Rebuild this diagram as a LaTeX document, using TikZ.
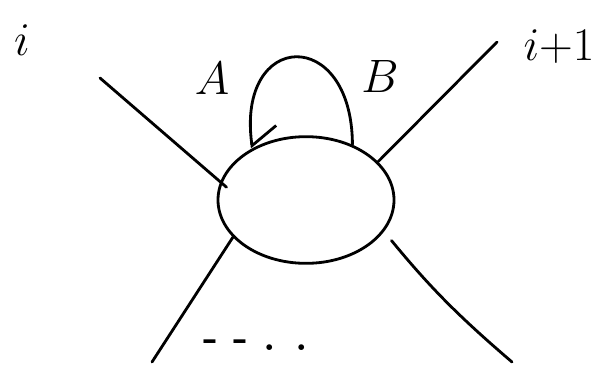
\RequirePackage{fix-cm}
\documentclass[tikz,border=0pt]{standalone}
\usepackage{tikz}
\usetikzlibrary{shapes.geometric,arrows.meta,positioning}

\begin{document}
\begin{tikzpicture}[
      x=0.03cm, y=-0.03cm,
      blob/.style={draw, ellipse, line width=2.4pt, minimum width=5.28cm, minimum height=3.8cm, inner sep=0pt},
      leg/.style={draw, line width=2.4pt, line cap=round},
      tag/.style={font=\fontsize{40}{48}\selectfont, inner sep=0pt}
    ]
      \useasboundingbox (0,0) rectangle (597,369);
      \node[blob] (blob) at (306,200) {};
      % free ends of the four legs
      \coordinate (tl) at (100,78);
      \coordinate (tr) at (497,42);
      \coordinate (bl) at (152,362);
      \coordinate (br) at (512,362);
      \draw[leg, shorten >=-0.25cm] (tl) -- (blob.168);
      \draw[leg] (tr) -- (blob.28);
      \draw[leg] (blob.207) -- (bl);
      \draw[leg, shorten <=0.35cm] (blob.-22) to[bend right=5] (br);
      % the loop on top
      \draw[leg, -{Straight Barb[left, length=5mm, width=16mm]}]
        (blob.50) .. controls (352,25) and (236,30) .. (blob.136);
      % labels
      \node[tag] (labA) at (212,78) {$A$};
      \node[tag] (labB) at (380,76) {$B$};
      \node[tag] (labi) at (22,40) {$i$};
      \node[tag] (labj) at (559,47) {$i{+}1$};
      \node[tag, font=\fontsize{34}{40}\selectfont] (dots) at (256,345) {\textbf{- - . .}};
    \end{tikzpicture}
\end{document}
